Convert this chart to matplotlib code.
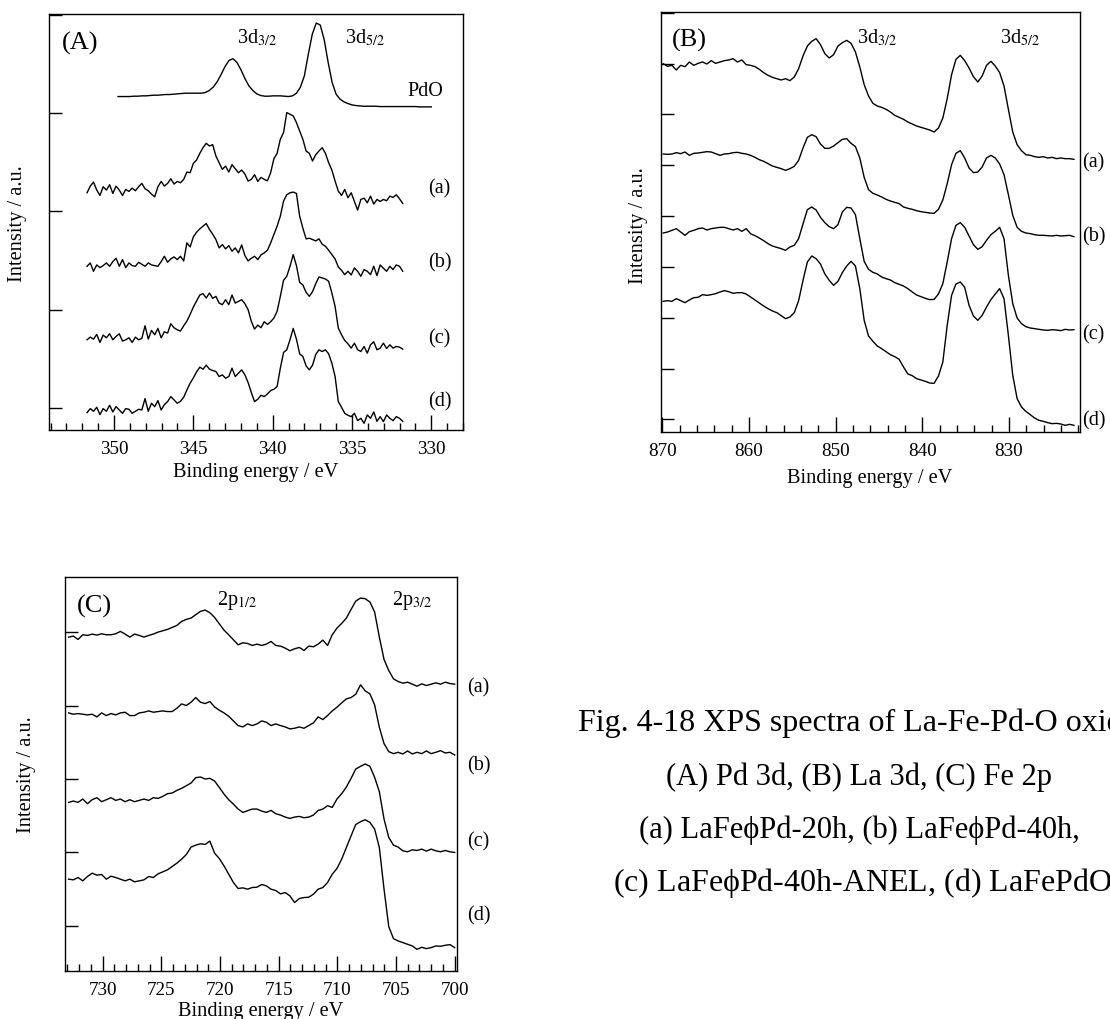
import numpy as np
import matplotlib
matplotlib.use("Agg")
import matplotlib.pyplot as plt
from matplotlib.ticker import MultipleLocator, FixedLocator

plt.rcParams['font.family'] = ['Liberation Serif', 'DejaVu Serif']
plt.rcParams['mathtext.fontset'] = 'stix'

# ---------------- Pd 3d spectra (A) ----------------
pd_range = (351.7, 331.8)
pd_a = [720, 740, 752, 728, 712, 738, 728, 744, 718, 740,
        728, 712, 730, 724, 734, 726, 738, 748, 732, 726,
        716, 708, 738, 754, 740, 748, 762, 746, 754, 750,
        760, 782, 780, 808, 818, 838, 855, 868, 860, 864,
        830, 810, 790, 800, 782, 804, 792, 780, 788, 776,
        755, 760, 774, 754, 766, 760, 756, 780, 822, 838,
        880, 900, 960, 955, 950, 930, 905, 880, 845, 838,
        815, 834, 845, 855, 838, 810, 788, 755, 725, 712,
        730, 705, 720, 694, 668, 700, 704, 690, 710, 686,
        700, 694, 700, 696, 710, 706, 714, 702, 688]
pd_b = [500, 510, 485, 504, 496, 502, 510, 500, 514, 524,
        500, 520, 496, 510, 502, 500, 512, 506, 500, 510,
        504, 502, 500, 514, 530, 512, 522, 528, 520, 530,
        516, 570, 558, 588, 602, 612, 620, 628, 610, 596,
        580, 555, 565, 552, 562, 545, 555, 540, 564, 532,
        516, 524, 530, 520, 534, 540, 548, 570, 595, 620,
        650, 695, 714, 720, 722, 718, 650, 614, 582, 584,
        580, 576, 582, 566, 560, 548, 535, 522, 498, 488,
        475, 485, 474, 495, 485, 470, 490, 485, 475, 500,
        472, 504, 494, 485, 500, 490, 504, 500, 485]
pd_c = [280, 288, 282, 296, 272, 294, 286, 298, 280, 290,
        298, 276, 280, 286, 272, 288, 280, 284, 322, 282,
        308, 295, 314, 286, 304, 300, 328, 316, 310, 306,
        322, 336, 356, 378, 396, 414, 418, 405, 420, 404,
        410, 390, 385, 400, 385, 414, 390, 395, 400, 388,
        370, 335, 312, 324, 316, 334, 326, 334, 345, 365,
        410, 458, 470, 500, 535, 502, 452, 444, 422, 410,
        424, 448, 468, 465, 462, 455, 420, 380, 315, 295,
        278, 268, 255, 270, 250, 245, 260, 240, 265, 274,
        250, 255, 270, 254, 265, 255, 260, 258, 252]
pd_d = [62, 74, 66, 78, 56, 74, 66, 84, 64, 80,
        70, 60, 74, 72, 60, 66, 72, 70, 104, 66,
        90, 80, 98, 70, 86, 95, 110, 100, 90, 96,
        108, 130, 150, 166, 184, 198, 192, 204, 192, 188,
        185, 170, 175, 165, 170, 195, 170, 180, 190, 175,
        152, 122, 95, 102, 114, 110, 118, 128, 132, 140,
        195, 242, 250, 280, 314, 282, 238, 230, 202, 190,
        204, 236, 250, 245, 250, 238, 210, 170, 95, 78,
        60, 54, 50, 60, 38, 45, 30, 55, 45, 64,
        36, 50, 35, 55, 45, 38, 50, 45, 36]
pdo_range = (349.75, 330.0)
pdo_ref = [1008, 1008, 1008, 1008, 1009, 1009, 1010, 1010, 1011, 1012,
           1012, 1013, 1014, 1014, 1015, 1016, 1017, 1018, 1018, 1018,
           1018, 1018, 1020, 1026, 1036, 1052, 1074, 1098, 1116, 1121,
           1110, 1088, 1062, 1040, 1026, 1016, 1011, 1009, 1009, 1010,
           1010, 1010, 1009, 1008, 1010, 1018, 1036, 1070, 1135, 1195,
           1228, 1222, 1178, 1110, 1050, 1015, 1000, 992, 987, 983,
           981, 980, 979, 979, 979, 979, 978, 978, 978, 978,
           978, 978, 978, 978, 978, 978, 977, 977, 977, 977]

# ---------------- La 3d spectra (B) ----------------
la_range = (869.9, 822.5)
la_a = [1105, 1097, 1100, 1086, 1100, 1096, 1110, 1100, 1106, 1110,
        1104, 1114, 1106, 1110, 1114, 1116, 1120, 1110, 1116, 1102,
        1100, 1096, 1088, 1078, 1070, 1064, 1060, 1056, 1060, 1054,
        1065, 1090, 1128, 1158, 1172, 1180, 1162, 1135, 1122, 1132,
        1158, 1168, 1175, 1166, 1140, 1095, 1042, 1008, 986, 978,
        974, 968, 960, 950, 944, 938, 930, 924, 918, 914,
        910, 906, 900, 912, 942, 1000, 1072, 1118, 1130, 1114,
        1092, 1066, 1050, 1068, 1100, 1112, 1098, 1078, 1038, 968,
        900, 862, 844, 832, 830, 826, 824, 826, 822, 824,
        820, 822, 820, 820, 818]
la_b = [834, 833, 834, 838, 835, 840, 830, 836, 837, 839,
        841, 840, 835, 830, 834, 835, 838, 839, 836, 834,
        830, 824, 817, 812, 805, 798, 794, 790, 785, 790,
        797, 815, 852, 884, 892, 886, 864, 851, 851, 858,
        868, 878, 880, 866, 856, 822, 764, 727, 716, 711,
        705, 698, 693, 689, 685, 675, 671, 668, 664, 661,
        659, 657, 656, 668, 696, 745, 802, 836, 844, 822,
        792, 778, 780, 795, 822, 830, 822, 804, 772, 712,
        650, 614, 602, 597, 595, 592, 590, 590, 589, 588,
        590, 588, 589, 590, 586]
la_c = [597, 600, 605, 610, 600, 590, 601, 605, 610, 612,
        606, 610, 612, 614, 614, 610, 606, 610, 602, 610,
        595, 589, 582, 574, 565, 558, 554, 550, 545, 555,
        560, 580, 624, 667, 675, 666, 644, 628, 616, 610,
        622, 660, 674, 672, 652, 580, 512, 488, 479, 474,
        465, 460, 456, 448, 443, 438, 430, 420, 411, 406,
        401, 397, 398, 414, 445, 510, 580, 620, 628, 614,
        588, 562, 548, 556, 575, 592, 602, 614, 580, 470,
        385, 342, 325, 316, 312, 310, 308, 306, 305, 307,
        306, 304, 308, 306, 307]
la_d = [392, 394, 392, 400, 394, 388, 396, 403, 404, 412,
        410, 412, 415, 420, 424, 421, 416, 418, 418, 414,
        405, 396, 387, 378, 370, 363, 358, 349, 340, 345,
        358, 394, 455, 510, 528, 520, 504, 474, 455, 440,
        452, 478, 498, 512, 498, 430, 335, 288, 272, 258,
        250, 241, 232, 226, 218, 195, 174, 169, 160, 156,
        152, 147, 146, 168, 210, 320, 410, 444, 450, 434,
        380, 348, 335, 350, 375, 397, 414, 430, 400, 290,
        170, 100, 75, 62, 52, 42, 35, 32, 28, 25,
        26, 24, 20, 23, 20]

# ---------------- Fe 2p spectra (C) ----------------
fe_range = (732.9, 700.0)
fe_a = [1095, 1098, 1088, 1102, 1100, 1104, 1101, 1105, 1102, 1102,
        1105, 1112, 1104, 1095, 1104, 1100, 1095, 1100, 1104, 1110,
        1114, 1118, 1124, 1130, 1142, 1148, 1152, 1162, 1172, 1176,
        1168, 1154, 1135, 1116, 1102, 1087, 1072, 1078, 1076, 1070,
        1074, 1070, 1074, 1082, 1070, 1068, 1062, 1054, 1060, 1064,
        1055, 1068, 1066, 1074, 1086, 1070, 1102, 1122, 1136, 1152,
        1178, 1203, 1212, 1210, 1200, 1170, 1095, 1028, 995, 970,
        962, 957, 960, 954, 948, 955, 950, 954, 958, 954,
        960, 956, 954]
fe_b = [868, 864, 866, 864, 862, 864, 856, 868, 860, 866,
        862, 868, 870, 860, 860, 868, 870, 874, 870, 872,
        874, 872, 872, 882, 895, 890, 900, 914, 900, 896,
        902, 886, 876, 868, 858, 844, 830, 826, 835, 830,
        835, 844, 840, 830, 835, 830, 826, 820, 822, 826,
        822, 830, 838, 856, 848, 860, 874, 885, 898, 910,
        914, 924, 952, 934, 925, 892, 825, 776, 752, 746,
        750, 745, 754, 745, 750, 746, 754, 746, 750, 755,
        748, 750, 742]
fe_c = [600, 604, 600, 610, 596, 608, 614, 602, 608, 614,
        606, 610, 602, 608, 602, 606, 610, 606, 614, 612,
        618, 626, 628, 636, 642, 650, 658, 674, 676, 670,
        672, 664, 645, 625, 608, 595, 580, 570, 575, 580,
        580, 574, 570, 576, 566, 562, 556, 552, 556, 558,
        554, 556, 562, 576, 580, 590, 585, 610, 626, 646,
        672, 700, 708, 715, 708, 675, 632, 550, 495, 472,
        466, 455, 452, 458, 456, 460, 454, 460, 455, 452,
        456, 452, 450]
fe_d = [370, 368, 375, 365, 378, 388, 382, 384, 370, 379,
        375, 370, 365, 370, 362, 365, 368, 378, 375, 386,
        392, 398, 408, 418, 430, 444, 466, 472, 476, 474,
        484, 448, 432, 410, 385, 360, 342, 344, 340, 345,
        346, 354, 350, 340, 336, 326, 330, 320, 300, 312,
        315, 316, 325, 340, 345, 360, 385, 402, 430, 465,
        500, 534, 542, 548, 540, 520, 465, 340, 228, 192,
        185, 180, 175, 170, 160, 166, 162, 165, 170, 169,
        172, 174, 165]

sample_labels = ['(a)', '(b)', '(c)', '(d)']

# axis settings
a_xlim, a_ylim = (354.1, 328.0), (10, 1255)
a_yticks = [75, 369.5, 664, 958.5, 1253]
b_xlim, b_ylim = (870.15, 821.8), (0, 1260)
b_yticks = [38, 190.5, 343, 495.5, 648, 800.5, 953, 1105.5, 1258]
c_xlim, c_ylim = (733.21, 699.8), (95, 1275)
c_yticks = [230, 450, 670, 890, 1110]

W, H = 1110, 1020
fig = plt.figure(figsize=(W / 100, H / 100), dpi=100)


def frame(l, t, r, b):
    return [l / W, 1 - b / H, (r - l) / W, (b - t) / H]


def put(x, y, s, size=14, ha='left', va='baseline', **kw):
    fig.text(x / W, 1 - y / H, s, fontsize=size, ha=ha, va=va, **kw)


def style(ax, xlim, ylim, yticks, major, minor):
    ax.set_xlim(*xlim)
    ax.set_ylim(*ylim)
    ax.xaxis.set_major_locator(MultipleLocator(major))
    ax.xaxis.set_minor_locator(MultipleLocator(minor))
    ax.yaxis.set_major_locator(FixedLocator(yticks))
    ax.set_yticklabels([])
    ax.tick_params(axis='x', which='major', direction='in', length=10.8,
                   width=1.0, labelsize=13.8, pad=7)
    ax.tick_params(axis='x', which='minor', direction='in', length=5,
                   width=1.0)
    ax.tick_params(axis='y', which='major', direction='in', length=9.5,
                   width=1.0)
    ax.tick_params(top=False, right=False)
    for sp in ax.spines.values():
        sp.set_linewidth(1.0)


def draw(ax, rng, curves):
    for vals in curves:
        e = np.linspace(rng[0], rng[1], len(vals))
        ax.plot(e, vals, color='black', lw=1.0)


# Panel A
axA = fig.add_axes(frame(49, 15, 463, 431))
draw(axA, pd_range, [pd_a, pd_b, pd_c, pd_d])
draw(axA, pdo_range, [pdo_ref])
style(axA, a_xlim, a_ylim, a_yticks, 5, 1)
put(62, 50, '(A)', size=19)
put(237, 43, r'3d$_{3/2}$', size=14.5)
put(345, 43, r'3d$_{5/2}$', size=14.5)
put(407, 96, 'PdO', size=14.5)
for lab, y in zip(sample_labels, [189, 263, 339, 402]):
    put(428, y, lab, size=14.5, va='center')
put(256, 473, 'Binding energy / eV', size=14.7, ha='center', va='center')
put(18, 224, 'Intensity / a.u.', size=14.7, ha='center', va='center',
    rotation=90)

# Panel B
axB = fig.add_axes(frame(661, 13, 1080, 433))
draw(axB, la_range, [la_a, la_b, la_c, la_d])
style(axB, b_xlim, b_ylim, b_yticks, 10, 2)
put(672, 47, '(B)', size=19)
put(857, 43, r'3d$_{3/2}$', size=14.5)
put(1000, 43, r'3d$_{5/2}$', size=14.5)
for lab, y in zip(sample_labels, [163, 237, 335, 421]):
    put(1082, y, lab, size=14.5, va='center')
put(870, 478, 'Binding energy / eV', size=14.7, ha='center', va='center')
put(638, 226, 'Intensity / a.u.', size=14.7, ha='center', va='center',
    rotation=90)

# Panel C
axC = fig.add_axes(frame(65, 578, 457, 972))
draw(axC, fe_range, [fe_a, fe_b, fe_c, fe_d])
style(axC, c_xlim, c_ylim, c_yticks, 5, 1)
put(77, 613, '(C)', size=19)
put(217, 605, r'2p$_{1/2}$', size=14.5)
put(392, 605, r'2p$_{3/2}$', size=14.5)
for lab, y in zip(sample_labels, [688, 766, 842, 916]):
    put(467, y, lab, size=14.5, va='center')
put(261, 1012, 'Binding energy / eV', size=14.7, ha='center', va='center')
put(27, 775, 'Intensity / a.u.', size=14.7, ha='center', va='center',
    rotation=90)

# Caption
put(578, 723, 'Fig. 4-18 XPS spectra of La-Fe-Pd-O oxides', size=23,
    va='center')
put(859, 777, '(A) Pd 3d, (B) La 3d, (C) Fe 2p', size=22, ha='center',
    va='center')
put(859, 830, '(a) LaFe\u03d5Pd-20h, (b) LaFe\u03d5Pd-40h,', size=22,
    ha='center', va='center')
put(613, 883, '(c) LaFe\u03d5Pd-40h-ANEL, (d) LaFePdO$_3$', size=23,
    va='center')

fig.savefig('out.png', dpi=100)
